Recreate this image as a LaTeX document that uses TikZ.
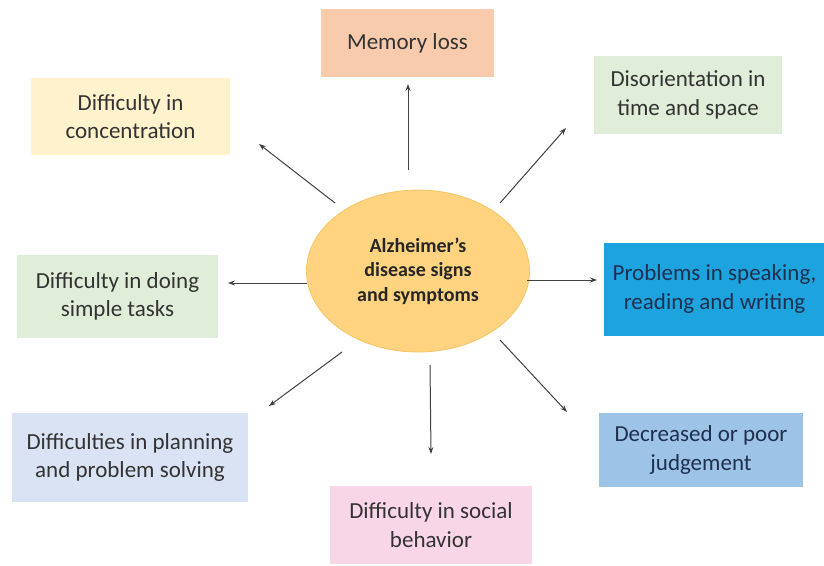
\documentclass[tikz,border=0pt]{standalone}
\usepackage{fontspec}
\setmainfont{Carlito}
\usetikzlibrary{arrows.meta,shapes.geometric}
\definecolor{cMem}{HTML}{F8CBAD}
\definecolor{cConc}{HTML}{FFF2CC}
\definecolor{cGreen}{HTML}{E0EDD8}
\definecolor{cSpeak}{HTML}{1DA3DD}
\definecolor{cPlan}{HTML}{DAE3F3}
\definecolor{cJudge}{HTML}{9DC3E6}
\definecolor{cSocial}{HTML}{F9D5E8}
\definecolor{cEll}{HTML}{FFD37F}
\definecolor{cEllB}{HTML}{F6C465}
\definecolor{cTxt}{HTML}{333333}
\definecolor{cNavy}{HTML}{1F3050}
\definecolor{cArr}{HTML}{404040}
\begin{document}
\begin{tikzpicture}[x=1pt,y=-1pt,
  box/.style={rectangle,draw=none,inner sep=0pt,align=center,text=cTxt,
    font=\fontsize{23}{28.5}\selectfont},
  arr/.style={draw=cArr,line width=1pt,-{Stealth[length=7pt,width=5pt]}}]
\useasboundingbox (0,0) rectangle (824,565);
\node[ellipse,fill=cEll,draw=cEllB,line width=0.8pt,minimum width=223pt,minimum height=162pt,
  align=center,text=black!85,font=\fontsize{20}{24.5}\selectfont\bfseries] (c) at (418,271)
  {Alzheimer\char39 s\\disease signs\\and symptoms};
\node[box,fill=cMem,minimum width=173pt,minimum height=68pt] (mem) at (407.5,43) {Memory loss};
\node[box,fill=cConc,minimum width=199pt,minimum height=77pt] (conc) at (130.5,116.5) {Difficulty in\\concentration};
\node[box,fill=cGreen,minimum width=188pt,minimum height=78pt] (dis) at (688,95) {Disorientation in\\time and space};
\node[box,fill=cGreen,minimum width=201pt,minimum height=83pt] (simp) at (117.5,296.5) {Difficulty in doing\\simple tasks};
\node[box,fill=cSpeak,text=cNavy,minimum width=221pt,minimum height=93pt] (speak) at (714.5,289) {Problems in speaking,\\reading and writing};
\node[box,fill=cPlan,minimum width=236pt,minimum height=89pt] (plan) at (130,457.5) {Difficulties in planning\\and problem solving};
\node[box,fill=cJudge,text=cNavy,minimum width=204pt,minimum height=74pt] (judge) at (701,450) {Decreased or poor\\judgement};
\node[box,fill=cSocial,minimum width=202pt,minimum height=78pt] (soc) at (431,525) {Difficulty in social\\behavior};
% arrow start/end points
\coordinate (s1) at (408,170); \coordinate (e1) at (408,84);
\coordinate (s2) at (335,203); \coordinate (e2) at (259,144);
\coordinate (s3) at (500,203); \coordinate (e3) at (566,128);
\coordinate (s4) at (307,283); \coordinate (e4) at (228,283);
\coordinate (s5) at (527,280); \coordinate (e5) at (597,280);
\coordinate (s6) at (342,352); \coordinate (e6) at (269,406);
\coordinate (s7) at (430,365); \coordinate (e7) at (431,454);
\coordinate (s8) at (500,340); \coordinate (e8) at (567,412);
\draw[arr] (s1) -- (e1);
\draw[arr] (s2) -- (e2);
\draw[arr] (s3) -- (e3);
\draw[arr] (s4) -- (e4);
\draw[arr] (s5) -- (e5);
\draw[arr] (s6) -- (e6);
\draw[arr] (s7) -- (e7);
\draw[arr] (s8) -- (e8);
\end{tikzpicture}
\end{document}
